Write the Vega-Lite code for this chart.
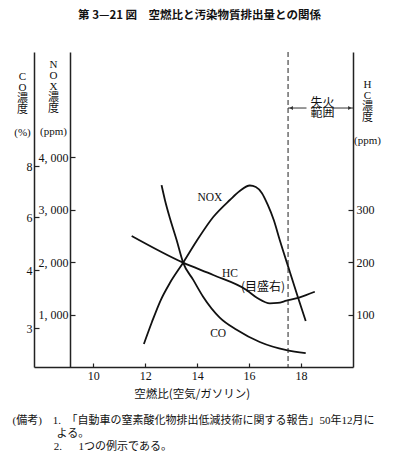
{
  "$schema": "https://vega.github.io/schema/vega-lite/v6.json",
  "width": 319,
  "height": 315,
  "autosize": {"type": "none"},
  "padding": {"left": 34, "top": 52, "right": 46, "bottom": 100},
  "background": "white",
  "title": {"text": "第 3—21 図　空燃比と汚染物質排出量との関係", "font": "Noto Sans CJK JP", "fontSize": 11.5, "fontWeight": "bold", "anchor": "middle", "offset": 30, "dx": 6, "color": "#111"},
  "config": {
    "view": {"stroke": null},
    "axis": {"grid": false, "domainColor": "#222", "domainWidth": 1.5, "tickColor": "#222", "tickWidth": 1.2, "labelColor": "#111", "titleColor": "#111", "labelFont": "Liberation Serif", "labelFontSize": 12, "titleFont": "Liberation Serif, Noto Sans CJK JP", "titleFontWeight": "normal", "titleFontSize": 11}
  },
  "datasets": {
    "nox": [{"afr":11.95,"nox":438},{"afr":12.26,"nox":857},{"afr":12.6,"nox":1276},{"afr":12.95,"nox":1600},{"afr":13.46,"nox":1987},{"afr":13.98,"nox":2400},{"afr":14.62,"nox":2857},{"afr":15.26,"nox":3181},{"afr":15.64,"nox":3352},{"afr":16.03,"nox":3457},{"afr":16.26,"nox":3429},{"afr":16.49,"nox":3314},{"afr":16.72,"nox":3086},{"afr":16.95,"nox":2800},{"afr":17.18,"nox":2419},{"afr":17.57,"nox":1810},{"afr":17.88,"nox":1328},{"afr":18.18,"nox":876}],
    "co": [{"afr":12.63,"co":7.25},{"afr":12.76,"co":6.67},{"afr":12.95,"co":5.96},{"afr":13.21,"co":5.13},{"afr":13.46,"co":4.28},{"afr":13.85,"co":3.83},{"afr":14.23,"co":3.54},{"afr":14.87,"co":3.18},{"afr":15.52,"co":2.97},{"afr":16.41,"co":2.76},{"afr":17.44,"co":2.62},{"afr":18.18,"co":2.57}],
    "hc": [{"afr":11.48,"hc":249.5},{"afr":13.46,"hc":198.7},{"afr":14.62,"hc":175.2},{"afr":15.9,"hc":146.7},{"afr":16.33,"hc":131},{"afr":16.8,"hc":121.3},{"afr":17.1,"hc":122},{"afr":17.44,"hc":126.3},{"afr":17.95,"hc":132.8},{"afr":18.53,"hc":143.4}],
    "misfire": [{"afr":17.5}],
    "labels_en": [{"afr":14.49,"y":3213,"t":"NOX"},{"afr":15.26,"y":1766,"t":"HC"},{"afr":14.81,"y":629,"t":"CO"}],
    "labels_ja": [{"afr":16.54,"y":1530,"t":"(目盛右)"},{"afr":18.83,"y":5029,"t":"失火"},{"afr":18.83,"y":4838,"t":"範囲"}],
    "arrows": [{"a":17.5,"b":18.21,"y":4933},{"a":19.18,"b":20,"y":4933}],
    "heads": [{"afr":17.62,"y":4933,"dir":"left"},{"afr":19.88,"y":4933,"dir":"right"}]
  },
  "resolve": {"scale": {"y": "independent"}, "axis": {"x": "independent"}},
  "layer": [
    {
      "data": {"name": "nox"},
      "mark": {"type": "line", "interpolate": "monotone", "color": "#111", "strokeWidth": 1.8},
      "encoding": {
        "x": {"field": "afr", "type": "quantitative", "scale": {"domain": [7.72, 20], "nice": false, "zero": false},
          "axis": {"orient": "bottom", "values": [10, 12, 14, 16, 18], "tickSize": -4, "labelPadding": 7, "title": "空燃比(空気/ガソリン)", "titleFont": "Noto Sans CJK JP", "titleFontSize": 11.5, "titleAlign": "center", "titleBaseline": "top", "titleX": 157.7, "titleY": 21.3}},
        "y": {"field": "nox", "type": "quantitative", "scale": {"domain": [0, 6000], "nice": false, "zero": false},
          "axis": {"orient": "left", "offset": -36, "values": [1000, 2000, 3000, 4000], "labelExpr": "replace(format(datum.value, ','), ',', ', ')", "tickSize": -5, "labelPadding": 7, "title": ["N", "O", "X", "濃", "度", "\u2800", "(ppm)"], "titleAngle": 0, "titleAlign": "center", "titleBaseline": "top", "titleX": -17, "titleY": 6.2, "titleLineHeight": 11.2}}
      }
    },
    {
      "data": {"name": "co"},
      "mark": {"type": "line", "interpolate": "monotone", "color": "#111", "strokeWidth": 1.8},
      "encoding": {
        "x": {"field": "afr", "type": "quantitative", "scale": {"domain": [7.72, 20], "nice": false, "zero": false}, "axis": null},
        "y": {"field": "co", "type": "quantitative", "scale": {"domain": [2.33, 3, 4, 6, 8, 12.5], "range": [315, 276, 218, 165, 114, 0], "nice": false, "zero": false},
          "axis": {"orient": "left", "offset": 0, "values": [3, 4, 6, 8], "tickSize": -5, "labelPadding": 7, "title": ["C", "O", "濃", "度", "\u2800", "(%)"], "titleAngle": 0, "titleAlign": "center", "titleBaseline": "top", "titleX": -12, "titleY": 18.2, "titleLineHeight": 11.2}}
      }
    },
    {
      "data": {"name": "hc"},
      "mark": {"type": "line", "interpolate": "monotone", "color": "#111", "strokeWidth": 1.8},
      "encoding": {
        "x": {"field": "afr", "type": "quantitative", "scale": {"domain": [7.72, 20], "nice": false, "zero": false}, "axis": null},
        "y": {"field": "hc", "type": "quantitative", "scale": {"domain": [0, 600], "nice": false, "zero": false},
          "axis": {"orient": "right", "values": [100, 200, 300], "tickSize": -5, "labelPadding": 8, "title": ["H", "C", "濃", "度", "\u2800", "(ppm)"], "titleAngle": 0, "titleAlign": "center", "titleBaseline": "top", "titleX": 14, "titleY": 26.2, "titleLineHeight": 11.2}}
      }
    },
    {
      "data": {"name": "misfire"},
      "mark": {"type": "rule", "color": "#222", "strokeWidth": 1, "strokeDash": [5, 3]},
      "encoding": {
        "x": {"field": "afr", "type": "quantitative", "scale": {"domain": [7.72, 20], "nice": false, "zero": false}, "axis": null}
      }
    },
    {
      "data": {"name": "labels_en"},
      "mark": {"type": "text", "font": "Liberation Serif", "fontSize": 11.5, "align": "center", "baseline": "middle", "color": "#111"},
      "encoding": {
        "x": {"field": "afr", "type": "quantitative", "scale": {"domain": [7.72, 20], "nice": false, "zero": false},
          "axis": {"orient": "bottom", "domain": false, "ticks": false, "labels": false, "title": ["(備考)\u30001.\u3000「自動車の窒素酸化物排出低減技術に関する報告」50年12月に", "\u200b\u3000\u3000\u3000\u3000よる。", "\u200b\u3000\u3000\u3000\u00a0\u00a0\u00a02.\u3000\u00a0\u00a01つの例示である。"], "titleFont": "Liberation Serif, Noto Sans CJK JP", "titleFontSize": 11, "titleAlign": "left", "titleAnchor": "start", "titleBaseline": "top", "titleX": -22, "titleY": 47, "titleLineHeight": 13}},
        "y": {"field": "y", "type": "quantitative", "scale": {"domain": [0, 6000], "nice": false, "zero": false}, "axis": null},
        "text": {"field": "t"}
      }
    },
    {
      "data": {"name": "labels_ja"},
      "mark": {"type": "text", "font": "Noto Sans CJK JP", "fontSize": 12, "align": "center", "baseline": "middle", "color": "#111"},
      "encoding": {
        "x": {"field": "afr", "type": "quantitative", "scale": {"domain": [7.72, 20], "nice": false, "zero": false}, "axis": null},
        "y": {"field": "y", "type": "quantitative", "scale": {"domain": [0, 6000], "nice": false, "zero": false}, "axis": null},
        "text": {"field": "t"}
      }
    },
    {
      "data": {"name": "arrows"},
      "mark": {"type": "rule", "color": "#333", "strokeWidth": 1},
      "encoding": {
        "x": {"field": "a", "type": "quantitative", "scale": {"domain": [7.72, 20], "nice": false, "zero": false}, "axis": null},
        "x2": {"field": "b"},
        "y": {"field": "y", "type": "quantitative", "scale": {"domain": [0, 6000], "nice": false, "zero": false}, "axis": null}
      }
    },
    {
      "data": {"name": "heads"},
      "mark": {"type": "point", "filled": true, "size": 16, "color": "#333", "opacity": 1},
      "encoding": {
        "x": {"field": "afr", "type": "quantitative", "scale": {"domain": [7.72, 20], "nice": false, "zero": false}, "axis": null},
        "y": {"field": "y", "type": "quantitative", "scale": {"domain": [0, 6000], "nice": false, "zero": false}, "axis": null},
        "shape": {"field": "dir", "type": "nominal", "scale": {"domain": ["left", "right"], "range": ["triangle-left", "triangle-right"]}, "legend": null}
      }
    }
  ]
}
